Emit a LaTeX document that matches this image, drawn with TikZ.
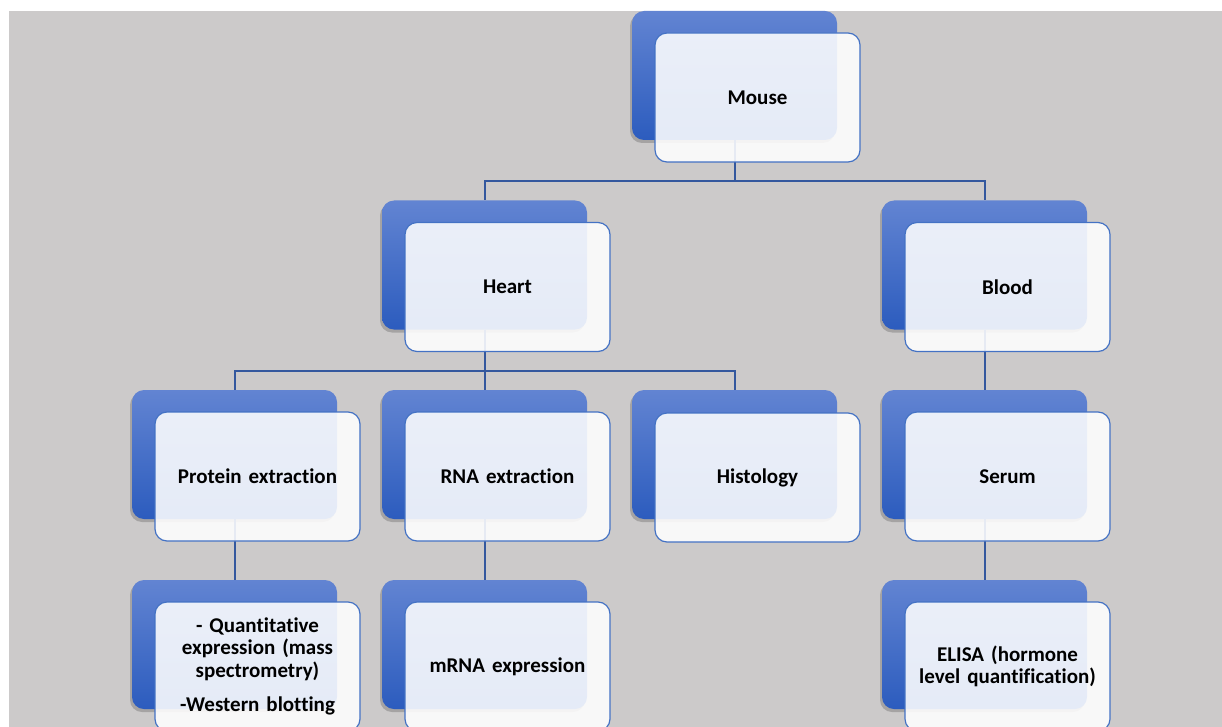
\documentclass[tikz,border=0pt]{standalone}
\usepackage{fontspec}
\setmainfont{Carlito}[Ligatures=NoCommon]
\usetikzlibrary{shadows}
\definecolor{bgc}{RGB}{204,202,202}
\definecolor{bt}{RGB}{98,132,210}
\definecolor{bb}{RGB}{44,92,190}
\definecolor{fedge}{RGB}{68,114,196}
\definecolor{conn}{RGB}{52,88,158}
\tikzset{
  backbox/.style={rounded corners=12pt, minimum width=205pt, minimum height=129pt,
    top color=bt, bottom color=bb, draw=none, inner sep=0pt,
    drop shadow={shadow xshift=-2pt, shadow yshift=-3pt, opacity=0.3, fill=black!70}},
  frontbox/.style={rounded corners=12pt, minimum width=205pt, minimum height=129pt,
    fill=white, fill opacity=0.88, text opacity=1, draw=fedge, line width=1.2pt,
    align=center, text width=190pt, inner sep=0pt,
    font=\bfseries\fontsize{21}{22.5}\selectfont},
  connector/.style={draw=conn, line width=2pt}
}
\begin{document}
\begin{tikzpicture}[x=1pt,y=-1pt]
\useasboundingbox (0,0) rectangle (1222,727);
\fill[white] (0,0) rectangle (1222,727);
\fill[bgc] (9,11) rectangle (1222,727);
% junction coordinates
\coordinate (j1) at (734.5,181);
\coordinate (j2) at (484.5,371);
% back boxes
\node[backbox] (mouseB) at (734.5,75.5) {};
\node[backbox] (heartB) at (484.5,265) {};
\node[backbox] (bloodB) at (984.5,265) {};
\node[backbox] (protB) at (234.5,454.5) {};
\node[backbox] (rnaB) at (484.5,454.5) {};
\node[backbox] (histB) at (734.5,454.5) {};
\node[backbox] (serumB) at (984.5,454.5) {};
\node[backbox] (qeB) at (234.5,644.5) {};
\node[backbox] (mrnaB) at (484.5,644.5) {};
\node[backbox] (elisaB) at (984.5,644.5) {};
% connectors
\draw[connector] (mouseB.south) -- (j1);
\draw[connector] (j1) -| (heartB.north);
\draw[connector] (j1) -| (bloodB.north);
\draw[connector] (heartB.south) -- (j2);
\draw[connector] (j2) -| (protB.north);
\draw[connector] (j2) -- (rnaB.north);
\draw[connector] (j2) -| (histB.north);
\draw[connector] (bloodB.south) -- (serumB.north);
\draw[connector] (protB.south) -- (qeB.north);
\draw[connector] (rnaB.south) -- (mrnaB.north);
\draw[connector] (serumB.south) -- (elisaB.north);
% front boxes
\node[frontbox] (mouse) at (757.5,97.5) {Mouse};
\node[frontbox] (heart) at (507.5,287) {Heart};
\node[frontbox] (blood) at (1007.5,287) {Blood};
\node[frontbox] (prot) at (257.5,476.5) {Protein extraction};
\node[frontbox] (rna) at (507.5,476.5) {RNA extraction};
\node[frontbox] (hist) at (757.5,477.5) {Histology};
\node[frontbox] (serum) at (1007.5,476.5) {Serum};
\node[frontbox] (qe) at (257.5,666.5) {- Quantitative\\expression (mass\\spectrometry)\\[12pt]-Western blotting};
\node[frontbox] (mrna) at (507.5,666.5) {mRNA expression};
\node[frontbox] (elisa) at (1007.5,666.5) {ELISA (hormone\\level quantification)};
\end{tikzpicture}
\end{document}
